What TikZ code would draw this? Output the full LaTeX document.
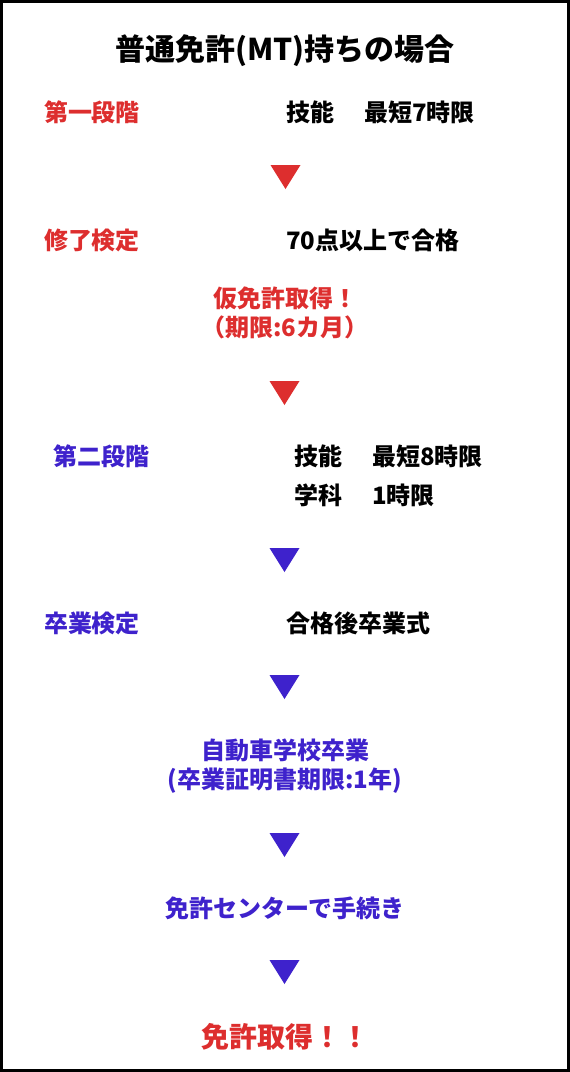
\documentclass[tikz,border=0pt]{standalone}
\usepackage{fontspec}
\setmainfont{Noto Sans CJK JP}
\definecolor{myred}{RGB}{221,46,46}
\definecolor{myblue}{RGB}{62,34,204}
\begin{document}
\begin{tikzpicture}[x=1pt,y=-1pt,
  every node/.style={inner sep=0pt,outer sep=0pt,font=\bfseries\fontsize{24}{29}\selectfont},
  lbl/.style={anchor=west},
  rtxt/.style={text=myred},
  btxt/.style={text=myblue},
  ktxt/.style={text=black},
  ctr/.style={anchor=center,align=center},
  tri/.pic={\fill (-15,-12) -- (15,-12) -- (0,12) -- cycle;}
]
\useasboundingbox (0,0) rectangle (570,1072);
\draw[line width=3pt] (1.5,1.5) rectangle (568.5,1070.5);

\node[ctr,font=\bfseries\fontsize{30}{36}\selectfont] (title) at (285,51) {普通免許(MT)持ちの場合};

% stage 1
\node[lbl,rtxt] (s1) at (44,112) {第一段階};
\node[lbl,ktxt] (s1a) at (286,112) {技能};
\node[lbl,ktxt] (s1b) at (364,112) {最短7時限};
\pic[myred] at (285.5,177) {tri};

\node[lbl,rtxt] (k1) at (44,240) {修了検定};
\node[lbl,ktxt] (k1a) at (286,240) {70点以上で合格};
\node[ctr,rtxt] (kari) at (285,313) {仮免許取得！\\（期限:6カ月）};
\pic[myred] at (284.5,393) {tri};

% stage 2
\node[lbl,btxt] (s2) at (53,456) {第二段階};
\node[lbl,ktxt] (s2a) at (294,456) {技能};
\node[lbl,ktxt] (s2b) at (372,456) {最短8時限};
\node[lbl,ktxt] (s2c) at (294,495) {学科};
\node[lbl,ktxt] (s2d) at (372,495) {1時限};
\pic[myblue] at (284.5,560) {tri};

\node[lbl,btxt] (k2) at (44,623) {卒業検定};
\node[lbl,ktxt] (k2a) at (286,623) {合格後卒業式};
\pic[myblue] at (284.5,687) {tri};

\node[ctr,btxt] (grad) at (285,766) {自動車学校卒業\\(卒業証明書期限:1年)};
\pic[myblue] at (284.5,845) {tri};

\node[ctr,btxt] (center) at (285,908) {免許センターで手続き};
\pic[myblue] at (284.5,972) {tri};

\node[ctr,rtxt,font=\bfseries\fontsize{28}{34}\selectfont] (get) at (285,1037) {免許取得！！};
\end{tikzpicture}
\end{document}
